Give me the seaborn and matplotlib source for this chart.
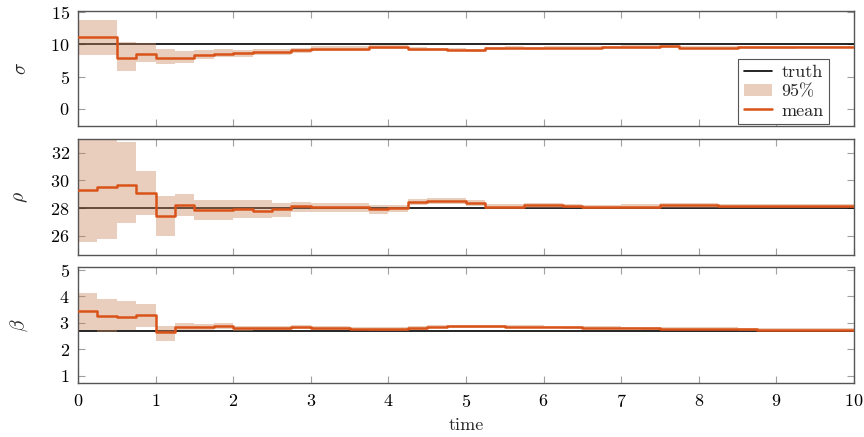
import numpy as np
import pandas as pd
import matplotlib
matplotlib.use("Agg")
import matplotlib.pyplot as plt
import seaborn as sns
from matplotlib.patches import Patch
from matplotlib.lines import Line2D

# Posterior estimates of the Lorenz parameters, updated every 0.25 time units
step_times = np.linspace(0.0, 10.0, 41)

sigma_true = 10.0
rho_true = 28.0
beta_true = 8.0 / 3.0

sigma_mean = [11.2, 11.1, 7.9, 8.45, 7.95, 7.85, 8.4, 8.5, 8.6, 8.8,
              8.85, 9.1, 9.35, 9.35, 9.35, 9.55, 9.6, 9.3, 9.25, 9.2,
              9.1, 9.4, 9.5, 9.4, 9.5, 9.5, 9.5, 9.55, 9.6, 9.6,
              9.7, 9.45, 9.45, 9.45, 9.55, 9.55, 9.55, 9.6, 9.6, 9.6]
sigma_lo = [8.4, 8.3, 5.8, 7.2, 6.95, 7.1, 7.8, 8.0, 8.1, 8.3,
            8.4, 8.7, 9.0, 9.0, 9.05, 9.25, 9.3, 9.05, 9.0, 8.95,
            8.85, 9.15, 9.25, 9.15, 9.25, 9.25, 9.25, 9.3, 9.35, 9.35,
            9.45, 9.25, 9.25, 9.25, 9.35, 9.35, 9.35, 9.4, 9.4, 9.4]
sigma_hi = [13.8, 13.8, 10.4, 10.25, 9.3, 8.95, 9.2, 9.25, 9.2, 9.3,
            9.3, 9.5, 9.7, 9.7, 9.7, 9.85, 9.9, 9.55, 9.5, 9.45,
            9.35, 9.65, 9.75, 9.65, 9.75, 9.75, 9.75, 9.8, 9.85, 9.85,
            9.95, 9.68, 9.68, 9.68, 9.75, 9.75, 9.75, 9.8, 9.8, 9.8]

rho_mean = [29.28, 29.52, 29.64, 29.1, 27.42, 28.2, 27.83, 27.83, 27.9, 27.8,
            27.9, 28.12, 28.05, 28.07, 28.05, 27.9, 28.0, 28.45, 28.5, 28.5,
            28.35, 28.1, 28.1, 28.2, 28.2, 28.15, 28.05, 28.05, 28.1, 28.1,
            28.2, 28.2, 28.2, 28.15, 28.15, 28.15, 28.17, 28.17, 28.17, 28.12]
rho_lo = [25.55, 25.75, 26.95, 27.5, 26.0, 27.4, 27.1, 27.15, 27.25, 27.3,
          27.35, 27.7, 27.7, 27.75, 27.7, 27.6, 27.7, 28.25, 28.3, 28.3,
          28.17, 27.95, 27.95, 28.03, 28.03, 27.98, 27.9, 27.9, 27.95, 27.95,
          28.03, 28.03, 28.03, 28.0, 28.0, 28.0, 28.02, 28.02, 28.02, 27.98]
rho_hi = [32.9, 32.9, 32.75, 30.7, 28.85, 29.0, 28.55, 28.55, 28.6, 28.55,
          28.35, 28.45, 28.35, 28.35, 28.4, 28.25, 28.25, 28.68, 28.7, 28.7,
          28.55, 28.28, 28.28, 28.38, 28.38, 28.32, 28.22, 28.22, 28.27, 28.27,
          28.36, 28.36, 28.36, 28.31, 28.31, 28.3, 28.32, 28.32, 28.32, 28.27]

beta_mean = [3.42, 3.26, 3.23, 3.27, 2.63, 2.83, 2.83, 2.88, 2.79, 2.79,
             2.8, 2.84, 2.8, 2.79, 2.77, 2.76, 2.76, 2.8, 2.84, 2.86,
             2.86, 2.86, 2.85, 2.84, 2.83, 2.82, 2.81, 2.81, 2.8, 2.78,
             2.77, 2.77, 2.77, 2.77, 2.75, 2.74, 2.73, 2.73, 2.73, 2.73]
beta_lo = [2.72, 2.65, 2.72, 2.82, 2.31, 2.72, 2.72, 2.76, 2.7, 2.72,
           2.72, 2.77, 2.74, 2.73, 2.71, 2.7, 2.7, 2.74, 2.78, 2.8,
           2.8, 2.8, 2.79, 2.79, 2.78, 2.77, 2.76, 2.76, 2.75, 2.73,
           2.72, 2.72, 2.72, 2.72, 2.7, 2.69, 2.68, 2.68, 2.68, 2.68]
beta_hi = [4.13, 3.9, 3.83, 3.69, 2.87, 3.0, 2.96, 3.0, 2.88, 2.86,
           2.88, 2.91, 2.87, 2.86, 2.84, 2.82, 2.82, 2.86, 2.9, 2.92,
           2.92, 2.92, 2.91, 2.9, 2.89, 2.88, 2.87, 2.86, 2.85, 2.83,
           2.82, 2.82, 2.82, 2.82, 2.8, 2.79, 2.78, 2.78, 2.78, 2.78]

params = [
    (r"$\sigma$", sigma_true, sigma_mean, sigma_lo, sigma_hi, (-2.7, 15.2), [0, 5, 10, 15]),
    (r"$\rho$", rho_true, rho_mean, rho_lo, rho_hi, (24.6, 33.0), [26, 28, 30, 32]),
    (r"$\beta$", beta_true, beta_mean, beta_lo, beta_hi, (0.72, 5.1), [1, 2, 3, 4, 5]),
]

sns.set_theme(style="white")
plt.rcParams["font.family"] = ["serif"]
plt.rcParams["font.serif"] = ["cmr10", "DejaVu Serif"]
plt.rcParams["mathtext.fontset"] = "cm"
plt.rcParams["axes.unicode_minus"] = False
plt.rcParams["axes.formatter.use_mathtext"] = True

mean_color = "#D95319"
band_color = "#C8825A"
band_alpha = 0.4
frame_color = "#555555"

fig = plt.figure(figsize=(8.64, 4.37), dpi=100)
left, width = 78 / 864, 776 / 864
rows = [(11, 126), (139, 255), (267, 383)]

axes = []
for (top_px, bot_px), (label, truth, mean, lo, hi, ylim, yticks) in zip(rows, params):
    ax = fig.add_axes([left, 1 - bot_px / 437, width, (bot_px - top_px) / 437])
    axes.append(ax)

    df = pd.DataFrame({
        "time": step_times,
        "mean": list(mean) + [mean[-1]],
        "lo": list(lo) + [lo[-1]],
        "hi": list(hi) + [hi[-1]],
    })

    ax.axhline(truth, color="black", lw=1.2, zorder=1)
    ax.fill_between(df["time"], df["lo"], df["hi"], step="post",
                    color=band_color, alpha=band_alpha, lw=0, zorder=2)
    sns.lineplot(data=df, x="time", y="mean", ax=ax, drawstyle="steps-post",
                 color=mean_color, lw=1.8, zorder=3)

    ax.set_xlim(0, 10)
    ax.set_ylim(*ylim)
    ax.set_yticks(yticks)
    ax.set_xticks(range(0, 11))
    ax.set_ylabel(label, fontsize=14)
    ax.yaxis.set_label_coords(-0.062, 0.5)
    ax.set_xlabel("")
    ax.tick_params(direction="in", length=5, width=0.8, color="#a0a0a0",
                   bottom=True, left=True, top=True, right=True,
                   labelsize=13, pad=6, labelcolor="black")
    for sp in ax.spines.values():
        sp.set_color(frame_color)
        sp.set_linewidth(1.0)

for ax in axes[:-1]:
    ax.tick_params(labelbottom=False)
axes[-1].tick_params(axis="x", pad=7)
axes[-1].set_xlabel("time", fontsize=13, labelpad=6)

handles = [
    Line2D([], [], color="black", lw=1.2),
    Patch(facecolor=band_color, alpha=band_alpha, edgecolor="none"),
    Line2D([], [], color=mean_color, lw=1.8),
]
leg = axes[0].legend(handles, ["truth", "95%", "mean"], loc="lower right",
                     bbox_to_anchor=(0.968, 0.017), borderaxespad=0,
                     fontsize=13, frameon=True, fancybox=False,
                     framealpha=1, edgecolor="#555555", handlelength=1.6,
                     handletextpad=0.5, labelspacing=0.2, borderpad=0.3)
leg.get_frame().set_linewidth(0.8)

fig.savefig("out.png", dpi=100)
